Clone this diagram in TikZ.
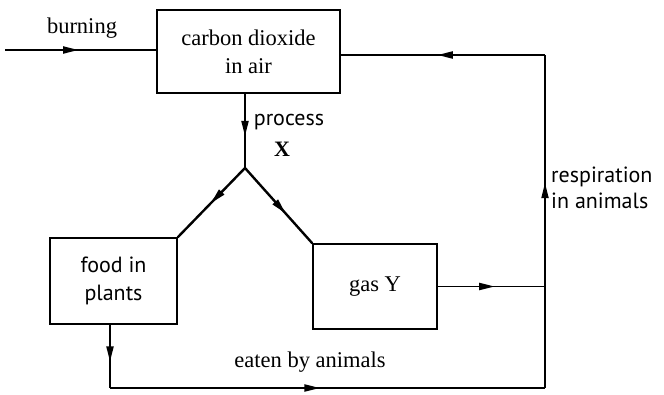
\documentclass[tikz,border=0pt]{standalone}
\usepackage{fontspec}
\setmainfont{Liberation Serif}
\newfontfamily\labsans{PT Sans}
\usetikzlibrary{arrows.meta,decorations.markings}
\begin{document}
\begin{tikzpicture}[x=1pt,y=-1pt,
  box/.style={draw,line width=1.4pt,minimum width=#1,inner sep=0pt,align=center,font=\fontsize{22.5}{28}\selectfont},
  flow/.style={line width=1.4pt},
  thick flow/.style={line width=2.4pt},
  midarrow/.style={postaction={decorate},decoration={markings,mark=at position #1 with {\fill (5pt,0pt) -- (-10pt,-3.8pt) -- (-10pt,3.8pt) -- cycle;}}},
  serlab/.style={font=\fontsize{22.5}{27}\selectfont,inner sep=0pt},
  sanslab/.style={font=\labsans\fontsize{22}{26}\selectfont,inner sep=0pt,align=left}]
\useasboundingbox (0,0) rectangle (664,394);
\node[box=183pt,minimum height=83pt] (co2) at (248.5,51.5) {carbon dioxide\\in air};
\node[box=127pt,minimum height=86pt,font=\labsans\fontsize{22}{28}\selectfont] (food) at (113.5,281) {food in\\plants};
\node[box=124pt,minimum height=85pt] (gas) at (375,286.5) {gas Y};
\coordinate (start) at (5,50);
\coordinate (fork) at (245,168);
\coordinate (c1) at (110,388);
\coordinate (c2) at (545,388);
\coordinate (c3) at (545,55);
\node[serlab] (burn) at (82,28) {burning};
\node[sanslab] (proc) at (289,122) {process};
\node[serlab,font=\bfseries\fontsize{22}{26}\selectfont] (xlab) at (282,149) {X};
\node[sanslab,anchor=west] (resp) at (551,188) {respiration\\in animals};
\node[serlab] (eat) at (310,362) {eaten by animals};
\draw[flow,midarrow=0.45] (start) -- (start -| co2.west);
\draw[flow,midarrow=0.5] (co2.south -| fork) -- (fork);
\draw[thick flow,midarrow=0.45] (fork) -- (food.north east);
\draw[thick flow,midarrow=0.55] (fork) -- (gas.north west);
\draw[flow,midarrow=0.5] (food.south -| c1) -- (c1);
\draw[flow,midarrow=0.47] (c1) -- (c2);
\draw[flow,midarrow=0.6] (c2) -- (c3);
\draw[flow,midarrow=0.5] (c3) -- (c3 -| co2.east);
\draw[flow,midarrow=0.48] (gas.east) -- (gas.east -| c2);
\end{tikzpicture}
\end{document}
